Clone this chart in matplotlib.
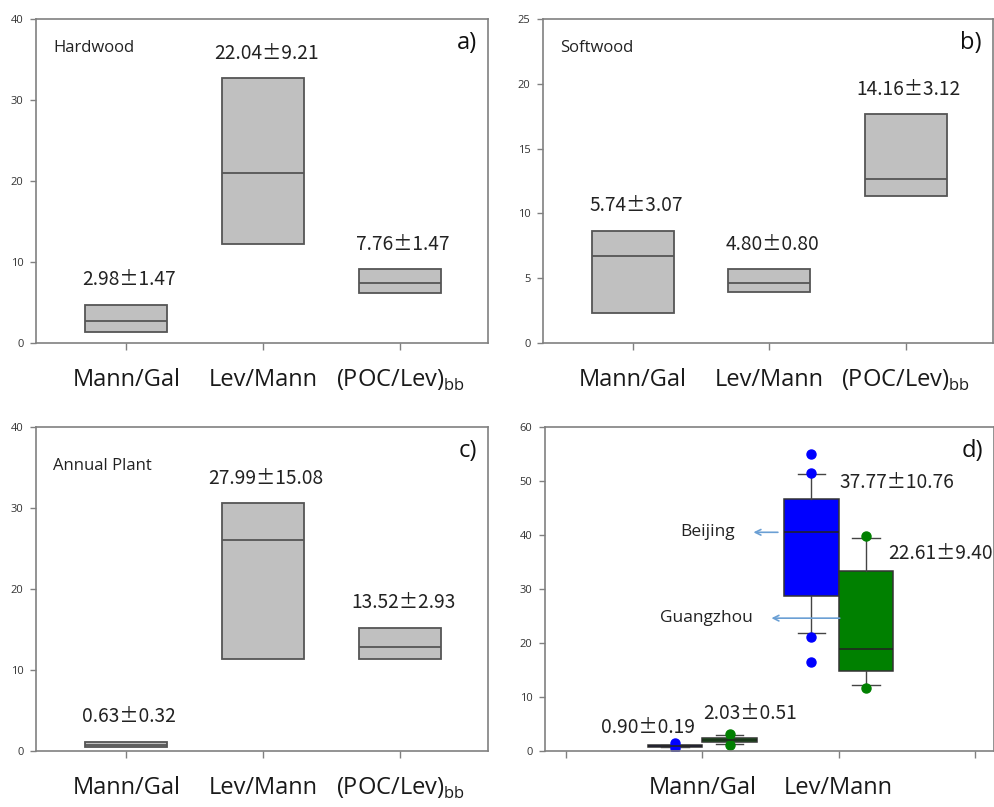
import matplotlib
matplotlib.use('Agg')
import matplotlib.pyplot as plt

plt.rcParams['font.family'] = ['Open Sans', 'DejaVu Sans']
plt.rcParams['mathtext.fontset'] = 'custom'
plt.rcParams['mathtext.rm'] = 'Open Sans'

NUMFONT = ['Noto Sans CJK JP', 'DejaVu Sans']
NUMSIZE = 13.8

# ---------------- data ----------------
cats3 = ['Mann/Gal', 'Lev/Mann', '(POC/Lev)$_{\\mathregular{bb}}$']

hard_q1 = [1.4, 12.2, 6.2]
hard_med = [2.7, 21.0, 7.4]
hard_q3 = [4.7, 32.7, 9.1]
hard_labels = ['2.98±1.47', '22.04±9.21', '7.76±1.47']

soft_q1 = [2.3, 3.9, 11.35]
soft_med = [6.7, 4.6, 12.65]
soft_q3 = [8.65, 5.7, 17.65]
soft_labels = ['5.74±3.07', '4.80±0.80', '14.16±3.12']

ann_q1 = [0.45, 11.3, 11.3]
ann_med = [0.8, 26.0, 12.8]
ann_q3 = [1.15, 30.6, 15.2]
ann_labels = ['0.63±0.32', '27.99±15.08', '13.52±2.93']

cats_d = ['', 'Mann/Gal', 'Lev/Mann', '']
# Beijing: Mann/Gal, Lev/Mann
bj_q1 = [0.75, 28.7]
bj_med = [0.9, 40.6]
bj_q3 = [1.05, 46.7]
bj_lo = [0.7, 21.8]
bj_hi = [1.1, 51.3]
bj_fliers = [[1.4, 0.6], [55.0, 51.5, 21.2, 16.4]]
bj_labels = ['0.90±0.19', '37.77±10.76']
# Guangzhou: Mann/Gal, Lev/Mann
gz_q1 = [1.6, 14.9]
gz_med = [2.0, 18.9]
gz_q3 = [2.5, 33.3]
gz_lo = [1.3, 12.2]
gz_hi = [2.9, 39.5]
gz_fliers = [[3.2, 1.2], [39.9, 11.6]]
gz_labels = ['2.03±0.51', '22.61±9.40']

# ---------------- styling ----------------
GREY_FILL = '#c0c0c0'
EDGE = '#555555'
SPINE = '#808080'
TXT = '#222222'

W, H = 995, 807
fig = plt.figure(figsize=(W / 100, H / 100), dpi=100)


def ax_at(l, t, r, b):
    return fig.add_axes([l / W, 1 - b / H, (r - l) / W, (b - t) / H])


def style(ax, ymax, ystep):
    for s in ax.spines.values():
        s.set_color(SPINE)
        s.set_linewidth(1.2)
    ax.set_ylim(0, ymax)
    ax.set_yticks(range(0, ymax + 1, ystep))
    ax.tick_params(axis='y', direction='out', length=4, width=1, color=SPINE,
                   labelsize=8, labelcolor='#333333', pad=5)
    ax.tick_params(axis='x', direction='out', length=5, width=1, color=SPINE,
                   labelsize=17, labelcolor='#1a1a1a', pad=13)


def num_text(ax, x, y, s, **kw):
    return ax.text(x, y, s, ha='center', va='center', fontsize=NUMSIZE,
                   color=TXT, family=NUMFONT, **kw)


def grey_panel(ax, q1, med, q3, labels, ymax, ystep, title, tag, title_y=0.91):
    stats = []
    for a, m, b in zip(q1, med, q3):
        stats.append(dict(q1=a, med=m, q3=b, whislo=a, whishi=b, fliers=[]))
    pos = [1, 2, 3]
    ax.bxp(stats, positions=pos, widths=0.6, patch_artist=True,
           showcaps=False, showfliers=False,
           boxprops=dict(facecolor=GREY_FILL, edgecolor=EDGE, linewidth=1.3),
           medianprops=dict(color=EDGE, linewidth=1.3),
           whiskerprops=dict(linewidth=0))
    style(ax, ymax, ystep)
    ax.set_xlim(0.34, 3.64)
    ax.set_xticks(pos)
    ax.set_xticklabels(cats3)
    for x, top, lab in zip(pos, q3, labels):
        ax.annotate(lab, (x, top), xytext=(2, 18), textcoords='offset points',
                    ha='center', va='center', fontsize=NUMSIZE, color=TXT,
                    family=NUMFONT)
    ax.text(0.038, title_y, title, transform=ax.transAxes, fontsize=12,
            color=TXT, ha='left', va='center')
    ax.text(0.975, 0.925, tag, transform=ax.transAxes, fontsize=17,
            color='#111111', ha='right', va='center')


ax_a = ax_at(36, 19, 488, 343)
grey_panel(ax_a, hard_q1, hard_med, hard_q3, hard_labels, 40, 10, 'Hardwood', 'a)')
ax_b = ax_at(543, 19, 993, 343)
grey_panel(ax_b, soft_q1, soft_med, soft_q3, soft_labels, 25, 5, 'Softwood', 'b)')
ax_c = ax_at(36, 427, 488, 751)
grey_panel(ax_c, ann_q1, ann_med, ann_q3, ann_labels, 40, 10, 'Annual Plant', 'c)',
           title_y=0.88)

# ---------------- panel d ----------------
ax_d = ax_at(545, 427, 994, 751)


def colour_boxes(ax, q1, med, q3, lo, hi, fl, pos, color):
    stats = []
    for a, m, b, l, h, f in zip(q1, med, q3, lo, hi, fl):
        stats.append(dict(q1=a, med=m, q3=b, whislo=l, whishi=h, fliers=f))
    ax.bxp(stats, positions=pos, widths=0.4, patch_artist=True,
           boxprops=dict(facecolor=color, edgecolor='#333333', linewidth=1.1),
           medianprops=dict(color='#222222', linewidth=1.1),
           whiskerprops=dict(color='#444444', linewidth=1.0),
           capprops=dict(color='#444444', linewidth=1.0),
           flierprops=dict(marker='o', markerfacecolor=color,
                           markeredgecolor=color, markersize=6.5))


colour_boxes(ax_d, bj_q1, bj_med, bj_q3, bj_lo, bj_hi, bj_fliers, [0.8, 1.8], '#0000ff')
colour_boxes(ax_d, gz_q1, gz_med, gz_q3, gz_lo, gz_hi, gz_fliers, [1.2, 2.2], '#008000')
style(ax_d, 60, 10)
ax_d.set_xlim(-0.154, 3.14)
ax_d.set_xticks(range(len(cats_d)))
ax_d.set_xticklabels(cats_d)

num_text(ax_d, 0.601, 4.3, bj_labels[0])
num_text(ax_d, 1.348, 7.0, gz_labels[0])
num_text(ax_d, 2.43, 49.8, bj_labels[1])
num_text(ax_d, 2.75, 36.5, gz_labels[1])

ax_d.text(1.238, 40.5, 'Beijing', ha='right', va='center', fontsize=12.5, color=TXT)
ax_d.annotate('', xy=(1.355, 40.5), xytext=(1.575, 40.5),
              arrowprops=dict(arrowstyle='->', color='#6a9fd4', lw=1.2))
ax_d.text(1.37, 24.6, 'Guangzhou', ha='right', va='center', fontsize=12.5, color=TXT)
ax_d.annotate('', xy=(1.487, 24.6), xytext=(2.029, 24.6),
              arrowprops=dict(arrowstyle='->', color='#6a9fd4', lw=1.2))
ax_d.text(0.975, 0.925, 'd)', transform=ax_d.transAxes, fontsize=17,
          color='#111111', ha='right', va='center')

fig.savefig('out.png', dpi=100, facecolor='white')
